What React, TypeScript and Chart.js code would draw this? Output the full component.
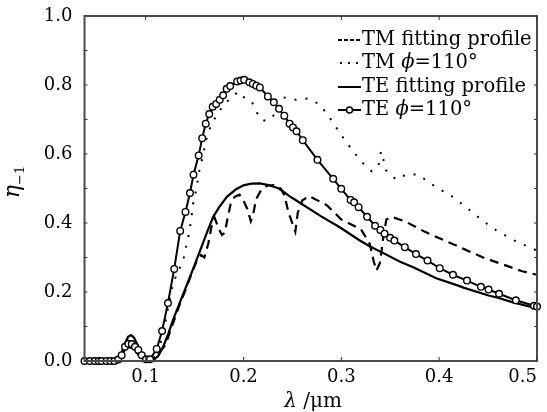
import React, { useEffect, useRef } from "react";
import { Chart, registerables } from "chart.js";

Chart.register(...registerables);

// ---------- data ----------
const teMeasX = [
  0.0375, 0.043, 0.048, 0.052, 0.055, 0.06, 0.064, 0.068, 0.072, 0.0755, 0.0789, 0.0823, 0.0858,
  0.0891, 0.0925, 0.096, 0.1004, 0.1045, 0.1113, 0.1168, 0.1228, 0.1292, 0.1353, 0.1407, 0.1453,
  0.1489, 0.1542, 0.1578, 0.1614, 0.165, 0.1685, 0.1721, 0.1757, 0.1792, 0.1828, 0.1864, 0.1935,
  0.1971, 0.2007, 0.206, 0.2096, 0.2131, 0.2167, 0.2249, 0.231, 0.2363, 0.2417, 0.2471, 0.2506,
  0.2542, 0.2606, 0.2756, 0.2917, 0.2999, 0.3095, 0.3131, 0.3177, 0.3263, 0.3345, 0.3399, 0.3442,
  0.3499, 0.3542, 0.3649, 0.3763, 0.3881, 0.4006, 0.4141, 0.4284, 0.4427, 0.4505, 0.4612, 0.4784,
  0.4969, 0.5,
];
const teMeasY = [
  0, 0, 0, 0, 0, 0, 0, 0, 0.004, 0.017, 0.041, 0.05, 0.049,
  0.041, 0.032, 0.017, 0.005, 0.005, 0.035, 0.087, 0.168, 0.267, 0.377, 0.432, 0.487,
  0.54, 0.596, 0.646, 0.688, 0.716, 0.737, 0.745, 0.757, 0.77, 0.789, 0.797, 0.81,
  0.813, 0.815, 0.808, 0.803, 0.798, 0.793, 0.767, 0.75, 0.731, 0.711, 0.688, 0.677,
  0.666, 0.64, 0.583, 0.528, 0.499, 0.467, 0.46, 0.446, 0.418, 0.392, 0.38, 0.369,
  0.357, 0.349, 0.33, 0.31, 0.291, 0.269, 0.25, 0.233, 0.215, 0.207, 0.195, 0.176,
  0.16, 0.158,
];

const teFitX = [
  0.0375, 0.07, 0.074, 0.078, 0.082, 0.085, 0.088, 0.092, 0.096, 0.1, 0.104, 0.108, 0.113, 0.118,
  0.123, 0.128, 0.135, 0.142, 0.15, 0.157, 0.163, 0.169, 0.175, 0.183, 0.192, 0.2, 0.2078,
  0.2167, 0.2256, 0.2363, 0.247, 0.258, 0.279, 0.2988, 0.3185, 0.3294, 0.3435, 0.36, 0.3735,
  0.397, 0.418, 0.4256, 0.4505, 0.459, 0.4755, 0.5,
];
const teFitY = [
  0, 0, 0.01, 0.045, 0.07, 0.075, 0.068, 0.045, 0.02, 0.005, 0, 0.003, 0.015, 0.042,
  0.078, 0.119, 0.17, 0.22, 0.278, 0.33, 0.375, 0.418, 0.445, 0.476, 0.497, 0.509, 0.514,
  0.515, 0.51, 0.5, 0.478, 0.458, 0.42, 0.387, 0.35, 0.332, 0.312, 0.288, 0.272,
  0.24, 0.22, 0.212, 0.19, 0.184, 0.17, 0.152,
];

const tmFitX = [
  0.0375, 0.07, 0.075, 0.082, 0.088, 0.095, 0.102, 0.11, 0.12, 0.128, 0.135, 0.142, 0.1485, 0.153,
  0.1565, 0.16, 0.164, 0.168, 0.1705, 0.1745, 0.178, 0.181, 0.1835, 0.187, 0.191, 0.196, 0.2, 0.204,
  0.2075, 0.2095, 0.213, 0.218, 0.224, 0.231, 0.238, 0.242, 0.246, 0.2505, 0.253, 0.2555, 0.26,
  0.267, 0.285, 0.3, 0.32, 0.329, 0.333, 0.336, 0.3395, 0.3425, 0.346, 0.351, 0.365, 0.385, 0.405,
  0.425, 0.445, 0.465, 0.485, 0.5,
];
const tmFitY = [
  0, 0, 0.02, 0.042, 0.033, 0.01, 0, 0.012, 0.045, 0.11, 0.165, 0.215, 0.265, 0.295,
  0.307, 0.3, 0.34, 0.4, 0.415, 0.385, 0.365, 0.372, 0.41, 0.457, 0.476, 0.482, 0.465, 0.44,
  0.405, 0.42, 0.47, 0.495, 0.508, 0.51, 0.5, 0.48, 0.43, 0.395, 0.375, 0.43, 0.465,
  0.478, 0.452, 0.41, 0.382, 0.34, 0.29, 0.262, 0.285, 0.35, 0.41, 0.418, 0.405, 0.375, 0.35,
  0.325, 0.3, 0.28, 0.26, 0.25,
];

const tmMeasX = [
  0.0375, 0.07, 0.076, 0.081, 0.086, 0.092, 0.098, 0.104, 0.112, 0.118, 0.124, 0.128, 0.134,
  0.1385, 0.141, 0.1437, 0.146, 0.1485, 0.152, 0.1556, 0.159, 0.1607, 0.165, 0.17, 0.178, 0.186,
  0.1948, 0.2016, 0.2085, 0.2136, 0.2197, 0.229, 0.241, 0.2534, 0.2653, 0.2773, 0.285, 0.292,
  0.2987, 0.306, 0.3149, 0.322, 0.331, 0.338, 0.3406, 0.3434, 0.3452, 0.356, 0.3667, 0.3792,
  0.39, 0.4013, 0.4131, 0.422, 0.4327, 0.4452, 0.4577, 0.4755, 0.4862, 0.5,
];
const tmMeasY = [
  0, 0, 0.02, 0.04, 0.038, 0.02, 0.004, 0, 0.02, 0.08, 0.17, 0.226, 0.264,
  0.293, 0.327, 0.36, 0.4, 0.455, 0.5, 0.565, 0.597, 0.631, 0.67, 0.7, 0.735, 0.76,
  0.781, 0.761, 0.752, 0.72, 0.696, 0.703, 0.764, 0.757, 0.761, 0.745, 0.718, 0.689,
  0.66, 0.631, 0.598, 0.574, 0.55, 0.568, 0.608, 0.579, 0.554, 0.526, 0.541, 0.54,
  0.516, 0.497, 0.477, 0.458, 0.434, 0.405, 0.38, 0.351, 0.337, 0.32,
];

const xTicks = [0.1, 0.2, 0.3, 0.4, 0.5];
const yTicks = [0, 0.2, 0.4, 0.6, 0.8, 1.0];
const xMin = 0.0375;
const xMax = 0.5;
const legendLabels = ["TM fitting profile", "TM ϕ=110°", "TE fitting profile", "TE ϕ=110°"];
const yTitleMain = "η";
const yTitleSub = "−1";
const xTitleSym = "λ";
const xTitleUnit = " /μm";

// ---------- helpers ----------
const SERIF = "'DejaVu Serif', serif";
const pts = (xs: number[], ys: number[]) => xs.map((x, i) => ({ x, y: ys[i] }));

function drawRich(ctx: CanvasRenderingContext2D, text: string, x: number, y: number, size: number) {
  const parts = text.split("ϕ");
  let cx = x;
  parts.forEach((p, i) => {
    if (i > 0) {
      ctx.font = `italic ${size}px ${SERIF}`;
      ctx.fillText("ϕ", cx, y);
      cx += ctx.measureText("ϕ").width;
    }
    ctx.font = `${size}px ${SERIF}`;
    ctx.fillText(p, cx, y);
    cx += ctx.measureText(p).width;
  });
}

const decorPlugin = {
  id: "decor",
  afterDatasetsDraw(chart: any) {
    const ctx: CanvasRenderingContext2D = chart.ctx;
    const { left, right, top, bottom } = chart.chartArea;
    const xs = chart.scales.x;
    const ys = chart.scales.y;
    ctx.save();
    ctx.strokeStyle = "#4a4a4a";
    ctx.lineWidth = 2;
    ctx.setLineDash([]);
    ctx.strokeRect(left, top, right - left, bottom - top);
    ctx.lineWidth = 1;
    ctx.strokeStyle = "#333";
    xTicks.forEach((v) => {
      const px = xs.getPixelForValue(v);
      ctx.beginPath();
      ctx.moveTo(px, bottom);
      ctx.lineTo(px, bottom - 4);
      ctx.moveTo(px, top);
      ctx.lineTo(px, top + 4);
      ctx.stroke();
    });
    for (let i = 1; i < 10; i++) {
      const py = ys.getPixelForValue(i / 10);
      ctx.beginPath();
      ctx.moveTo(left, py);
      ctx.lineTo(left + 3, py);
      ctx.moveTo(right, py);
      ctx.lineTo(right - 3, py);
      ctx.stroke();
    }
    ctx.restore();
  },
  afterDraw(chart: any) {
    const ctx: CanvasRenderingContext2D = chart.ctx;
    ctx.save();
    ctx.fillStyle = "#000";
    ctx.strokeStyle = "#000";
    const lx0 = 338;
    const lx1 = 361;
    const rows = [40, 63, 87, 110];
    ctx.textBaseline = "middle";
    ctx.textAlign = "left";
    rows.forEach((ry, i) => {
      ctx.lineWidth = 2;
      ctx.beginPath();
      if (i === 0) ctx.setLineDash([4, 2]);
      else if (i === 1) ctx.setLineDash([2, 6]);
      else ctx.setLineDash([]);
      ctx.moveTo(i === 1 ? lx0 + 2 : lx0, ry);
      ctx.lineTo(lx1, ry);
      ctx.stroke();
      ctx.setLineDash([]);
      if (i === 3) {
        ctx.beginPath();
        ctx.fillStyle = "#fff";
        ctx.lineWidth = 1.5;
        ctx.arc((lx0 + lx1) / 2, ry, 3, 0, Math.PI * 2);
        ctx.fill();
        ctx.stroke();
        ctx.fillStyle = "#000";
      }
      drawRich(ctx, legendLabels[i], lx1 + 1, ry, 19.5);
    });
    ctx.textBaseline = "alphabetic";
    ctx.font = `italic 20px ${SERIF}`;
    const w1 = ctx.measureText(xTitleSym).width;
    ctx.font = `20px ${SERIF}`;
    const w2 = ctx.measureText(xTitleUnit).width;
    const xc = 313;
    const sx = xc - (w1 + w2) / 2;
    ctx.font = `italic 20px ${SERIF}`;
    ctx.fillText(xTitleSym, sx, 407);
    ctx.font = `20px ${SERIF}`;
    ctx.fillText(xTitleUnit, sx + w1, 407);
    ctx.translate(15, 182);
    ctx.rotate(-Math.PI / 2);
    ctx.font = `italic 22px ${SERIF}`;
    const m1 = ctx.measureText(yTitleMain).width;
    ctx.font = `13px ${SERIF}`;
    const m2 = ctx.measureText(yTitleSub).width;
    const st = -(m1 + m2) / 2;
    ctx.textBaseline = "middle";
    ctx.font = `italic 22px ${SERIF}`;
    ctx.fillText(yTitleMain, st, -2);
    ctx.font = `13px ${SERIF}`;
    ctx.fillText(yTitleSub, st + m1, 6);
    ctx.restore();
  },
};

export default function App() {
  const ref = useRef<HTMLCanvasElement | null>(null);
  useEffect(() => {
    if (!ref.current) return;
    const chart = new Chart(ref.current, {
      type: "line",
      data: {
        datasets: [
          {
            label: legendLabels[3],
            data: pts(teMeasX, teMeasY),
            borderColor: "#000",
            borderWidth: 2,
            pointRadius: 3.3,
            pointBorderWidth: 1.4,
            pointBackgroundColor: "#fff",
            pointBorderColor: "#000",
            order: 0,
            clip: 6,
          },
          {
            label: legendLabels[2],
            data: pts(teFitX, teFitY),
            borderColor: "#000",
            borderWidth: 2.2,
            pointRadius: 0,
            order: 1,
            clip: 4,
          },
          {
            label: legendLabels[0],
            data: pts(tmFitX, tmFitY),
            borderColor: "#000",
            borderWidth: 2.2,
            borderDash: [9, 6],
            pointRadius: 0,
            order: 2,
            clip: 4,
          },
          {
            label: legendLabels[1],
            data: pts(tmMeasX, tmMeasY),
            borderColor: "#000",
            borderWidth: 2,
            borderDash: [2, 9],
            pointRadius: 0,
            order: 3,
            clip: 4,
          },
        ],
      },
      options: {
        responsive: false,
        devicePixelRatio: 1,
        animation: false,
        layout: { padding: { left: 0, right: 10, top: 16, bottom: 0 } },
        plugins: { legend: { display: false }, tooltip: { enabled: false } },
        elements: { line: { tension: 0 } },
        scales: {
          x: {
            type: "linear",
            min: xMin,
            max: xMax,
            border: { display: false },
            grid: { display: false, drawTicks: false },
            afterBuildTicks: (scale: any) => {
              scale.ticks = [xMin, ...xTicks].map((v) => ({ value: v }));
            },
            afterFit: (scale: any) => {
              scale.height = 51;
              scale.paddingLeft = 0;
              scale.paddingRight = 0;
            },
            ticks: {
              autoSkip: false,
              maxRotation: 0,
              align: "inner",
              padding: 6,
              color: "#000",
              font: { family: SERIF, size: 18 },
              callback: (v: any) => (Number(v) < 0.05 ? "" : Number(v).toFixed(1)),
            },
          },
          y: {
            type: "linear",
            min: 0,
            max: 1,
            border: { display: false },
            grid: { display: false, drawTicks: false },
            afterBuildTicks: (scale: any) => {
              scale.ticks = yTicks.map((v) => ({ value: v }));
            },
            afterFit: (scale: any) => {
              scale.width = 84.5;
              scale.paddingTop = 0;
              scale.paddingBottom = 0;
            },
            ticks: {
              padding: 12,
              color: "#000",
              font: { family: SERIF, size: 18 },
              callback: (v: any) => Number(v).toFixed(1),
            },
          },
        },
      },
      plugins: [decorPlugin],
    } as any);
    return () => chart.destroy();
  }, []);
  return (
    <div style={{ position: "fixed", left: 0, top: 0, width: 547, height: 412, background: "#fff" }}>
      <canvas ref={ref} width={547} height={412} style={{ display: "block", width: 547, height: 412 }} />
    </div>
  );
}
